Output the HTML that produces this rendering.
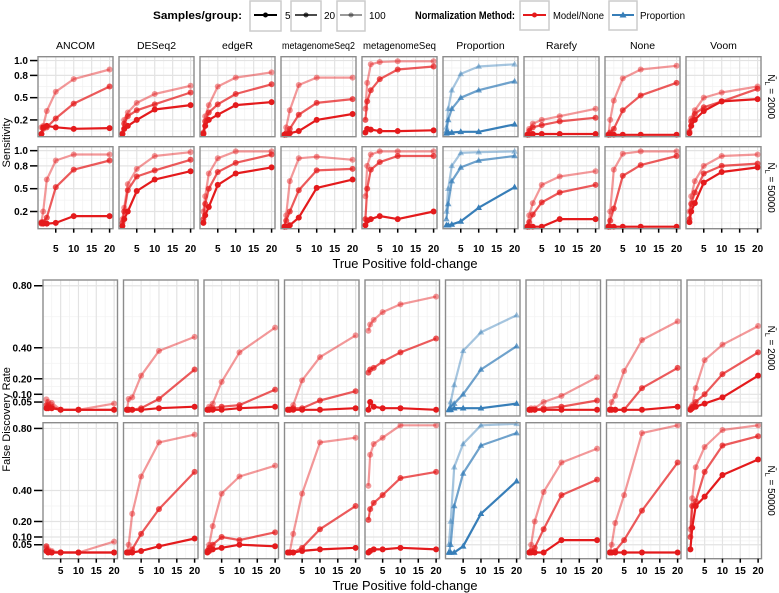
<!DOCTYPE html>
<html><head><meta charset="utf-8"><style>
html,body{margin:0;padding:0;background:#fff;}
svg{display:block;font-family:"Liberation Sans",Arial,sans-serif;}
</style></head><body>
<svg id="chart" width="779" height="593" viewBox="0 0 779 593" xmlns="http://www.w3.org/2000/svg">
<g id="legend">
  <text x="153" y="19" font-size="11" font-weight="bold" textLength="89" lengthAdjust="spacingAndGlyphs">Samples/group:</text>
  <g>
    <rect x="250" y="1" width="31" height="30" fill="#fff" stroke="#ccc" stroke-width="1.5"/>
    <line x1="254" y1="15" x2="277" y2="15" stroke="#000" stroke-width="2"/><circle cx="265.5" cy="15" r="2.5" fill="#000"/>
    <text x="285" y="19" font-size="10">5</text></g>
  <g>
    <rect x="291" y="1" width="30" height="30" fill="#fff" stroke="#ccc" stroke-width="1.5"/>
    <line x1="295" y1="15" x2="317" y2="15" stroke="#000" stroke-opacity="0.7" stroke-width="2"/><circle cx="306" cy="15" r="2.5" fill="#000" fill-opacity="0.7"/>
    <text x="324" y="19" font-size="10">20</text></g>
  <g>
    <rect x="337" y="1" width="28" height="30" fill="#fff" stroke="#ccc" stroke-width="1.5"/>
    <line x1="340" y1="15" x2="362" y2="15" stroke="#000" stroke-opacity="0.4" stroke-width="2"/><circle cx="351" cy="15" r="2.5" fill="#000" fill-opacity="0.4"/>
    <text x="369" y="19" font-size="10">100</text></g>
  <text x="415" y="19" font-size="11" font-weight="bold" textLength="100" lengthAdjust="spacingAndGlyphs">Normalization Method:</text>
  <g>
    <rect x="520" y="1" width="29" height="29" fill="#fff" stroke="#ccc" stroke-width="1.5"/>
    <line x1="523" y1="15" x2="546" y2="15" stroke="#e41a1c" stroke-width="2"/><circle cx="534.5" cy="15" r="2.5" fill="#e41a1c"/>
    <text x="553" y="19" font-size="10" textLength="51" lengthAdjust="spacingAndGlyphs">Model/None</text></g>
  <g>
    <rect x="609" y="1" width="28" height="29" fill="#fff" stroke="#ccc" stroke-width="1.5"/>
    <line x1="612" y1="15" x2="634" y2="15" stroke="#377eb8" stroke-width="2"/><path d="M623,11.5 L626.5,17.5 L619.5,17.5Z" fill="#377eb8"/>
    <text x="640" y="19" font-size="10" textLength="45" lengthAdjust="spacingAndGlyphs">Proportion</text></g>
</g>
<g id="panels"></g>
</svg>
<script>
const methods = ["ANCOM","DESeq2","edgeR","metagenomeSeq2","metagenomeSeq","Proportion","Rarefy","None","Voom"];
const foldChanges = [1, 1.5, 2.5, 5, 10, 20];
const sampleSizes = ["5","20","100"];
const sensTicks = [0.2, 0.5, 0.8, 1.0];
const sensTickLabels = ["0.2","0.5","0.8","1.0"];
const fdrTicks = [0.05, 0.1, 0.2, 0.4, 0.8];
const fdrTickLabels = ["0.05","0.10","0.20","0.40","0.80"];
const xTicks = [5, 10, 15, 20];
const rowLabels = ["2000","50000"];
const sens2000 = [
 [[0.01,0.1,0.12,0.1,0.08,0.09],[0.01,0.08,0.1,0.22,0.42,0.65],[0.1,0.12,0.32,0.58,0.75,0.88]],
 [[0.01,0.08,0.12,0.2,0.34,0.4],[0.01,0.15,0.25,0.33,0.41,0.57],[0.02,0.2,0.3,0.43,0.55,0.66]],
 [[0.01,0.12,0.2,0.27,0.4,0.44],[0.02,0.18,0.3,0.41,0.55,0.68],[0.03,0.25,0.4,0.65,0.77,0.84]],
 [[0,0,0.02,0.05,0.2,0.28],[0,0.02,0.08,0.27,0.43,0.48],[0,0.1,0.33,0.67,0.77,0.77]],
 [[0.03,0.08,0.07,0.05,0.05,0.06],[0.2,0.45,0.6,0.75,0.88,0.92],[0.35,0.7,0.95,0.98,0.99,0.99]],
 [[0.02,0.03,0.03,0.04,0.04,0.14],[0.05,0.2,0.35,0.5,0.6,0.72],[0.1,0.35,0.6,0.82,0.92,0.95]],
 [[0,0,0.01,0.01,0.01,0.01],[0,0.05,0.1,0.13,0.18,0.23],[0,0.08,0.15,0.2,0.25,0.35]],
 [[0,0,0,0,0,0],[0,0.03,0.08,0.33,0.53,0.7],[0,0.2,0.46,0.76,0.88,0.93]],
 [[0.02,0.12,0.2,0.32,0.45,0.48],[0.03,0.18,0.28,0.37,0.45,0.62],[0.05,0.22,0.33,0.5,0.57,0.65]]
];
const sens50000 = [
 [[0.05,0.04,0.04,0.05,0.14,0.14],[0.04,0.06,0.12,0.52,0.75,0.87],[0.06,0.2,0.62,0.87,0.95,0.95]],
 [[0.01,0.1,0.2,0.47,0.62,0.73],[0.05,0.2,0.48,0.66,0.74,0.88],[0.1,0.25,0.56,0.76,0.93,0.98]],
 [[0.05,0.15,0.26,0.55,0.7,0.78],[0.1,0.3,0.5,0.72,0.84,0.95],[0.2,0.4,0.7,0.9,0.99,0.99]],
 [[0,0,0.02,0.12,0.51,0.62],[0,0.08,0.2,0.48,0.74,0.76],[0,0.15,0.6,0.9,0.92,0.88]],
 [[0.02,0.08,0.1,0.14,0.1,0.2],[0.1,0.5,0.75,0.85,0.93,0.93],[0.4,0.8,0.95,0.99,0.99,0.99]],
 [[0.02,0.02,0.03,0.07,0.25,0.52],[0.1,0.3,0.6,0.78,0.87,0.93],[0.2,0.5,0.8,0.97,0.98,0.99]],
 [[0,0,0,0,0.1,0.1],[0,0.06,0.16,0.32,0.45,0.55],[0,0.15,0.31,0.55,0.66,0.73]],
 [[0,0,0,0,0,0],[0,0.08,0.24,0.67,0.81,0.93],[0,0.2,0.75,0.96,0.99,0.99]],
 [[0.06,0.2,0.31,0.58,0.72,0.78],[0.1,0.3,0.45,0.7,0.8,0.83],[0.2,0.4,0.6,0.8,0.93,0.95]]
];
const fdr2000 = [
 [[0.01,0.01,0.01,0,0,0],[0.03,0.03,0.02,0,0,0],[0.067,0.05,0.045,0,0,0.04]],
 [[0,0,0,0,0.01,0.02],[0,0,0,0.01,0.07,0.26],[0,0.07,0.08,0.22,0.38,0.47]],
 [[0,0,0,0,0.01,0.02],[0,0,0.01,0.02,0.03,0.13],[0,0.02,0.04,0.18,0.37,0.53]],
 [[0,0,0,0,0,0.01],[0,0,0.01,0.01,0.06,0.12],[0,0,0.03,0.19,0.34,0.48]],
 [[0,0.05,0.02,0.01,0.01,0],[0.24,0.26,0.27,0.31,0.37,0.46],[0.51,0.55,0.58,0.63,0.68,0.73]],
 [[0,0,0.01,0.01,0.01,0.04],[0,0.02,0.04,0.1,0.26,0.41],[0,0.05,0.16,0.38,0.5,0.61]],
 [[0,0,0,0,0,0],[0,0,0,0.01,0.02,0.06],[0,0.01,0.01,0.05,0.09,0.21]],
 [[0,0,0,0,0,0.02],[0,0,0,0,0.14,0.27],[0,0.05,0.09,0.25,0.45,0.57]],
 [[0,0.01,0.02,0.04,0.08,0.22],[0,0.02,0.05,0.1,0.23,0.37],[0.01,0.03,0.14,0.32,0.42,0.54]]
];
const fdr50000 = [
 [[0.01,0,0,0,0,0],[0.04,0.01,0,0,0,0],[0.03,0.02,0.01,0,0,0.07]],
 [[0,0,0,0.01,0.04,0.09],[0,0,0.02,0.12,0.28,0.52],[0,0.05,0.25,0.49,0.71,0.76]],
 [[0,0.01,0.02,0.03,0.05,0.04],[0.01,0.03,0.05,0.1,0.08,0.13],[0.01,0.05,0.17,0.38,0.49,0.56]],
 [[0,0,0,0.01,0.02,0.03],[0,0,0,0.03,0.15,0.3],[0,0,0.12,0.38,0.71,0.74]],
 [[0,0.01,0.02,0.02,0.03,0.02],[0.21,0.28,0.32,0.37,0.48,0.52],[0.43,0.63,0.7,0.74,0.82,0.82]],
 [[0,0,0,0.04,0.25,0.46],[0,0.05,0.3,0.51,0.69,0.77],[0.05,0.2,0.55,0.7,0.82,0.83]],
 [[0,0,0,0,0.08,0.08],[0,0.01,0.03,0.15,0.37,0.47],[0,0.05,0.2,0.39,0.58,0.67]],
 [[0,0,0,0,0,0],[0,0,0.01,0.08,0.27,0.58],[0,0.05,0.19,0.37,0.77,0.82]],
 [[0.02,0.16,0.3,0.36,0.5,0.6],[0.1,0.3,0.33,0.52,0.69,0.75],[0.15,0.35,0.55,0.68,0.79,0.82]]
];

const NS = "http://www.w3.org/2000/svg";
const root = document.getElementById("panels");
function mk(tag, attrs, parent){ const e=document.createElementNS(NS,tag); for(const k in attrs) e.setAttribute(k,attrs[k]); (parent||root).appendChild(e); return e; }
const alphas = [1.0, 0.72, 0.45];
const RED="#e41a1c", BLUE="#377eb8";

const sections = [
 {name:"sensitivity", x0:38, pitch:81, w:75, rows:[[56.7,136.7],[146.7,228.7]], dom:[-0.026,1.052], ticks:sensTicks, labels:sensTickLabels, data:[sens2000,sens50000], minor:[0.05,0.35,0.65,0.9], labRight:29, xlabY:252, titleY:268},
 {name:"fdr", x0:43, pitch:80.5, w:74.5, rows:[[280,416],[422.7,558.7]], dom:[-0.04,0.837], ticks:fdrTicks, labels:fdrTickLabels, data:[fdr2000,fdr50000], minor:[0.075,0.15,0.3,0.6], labRight:33, xlabY:574, titleY:590}
];
const xDom=[0.05,20.95];

sections.forEach((S,si)=>{
  S.rows.forEach((rr,ri)=>{
    const top=rr[0], bot=rr[1], h=bot-top;
    const ys = v => bot - (v - S.dom[0])/(S.dom[1]-S.dom[0])*h;
    S.ticks.forEach((t,ti)=>{
      const tl=mk("text",{x:S.labRight-1,y:ys(t)+3.5,"font-size":"10","font-weight":"bold","text-anchor":"end"});
      
      
      tl.textContent=S.labels[ti];
      mk("line",{x1:S.labRight+1,x2:S.x0,y1:ys(t),y2:ys(t),stroke:"#000","stroke-width":"1.5"});
    });
    methods.forEach((m,mi)=>{
      const L=S.x0+mi*S.pitch, R=L+S.w;
      const xs = v => L + (v-xDom[0])/(xDom[1]-xDom[0])*S.w;
      const g=mk("g",{});
      
      
      mk("rect",{x:L,y:top,width:S.w,height:h,fill:"#fff"},g);
      S.minor.forEach(t=>mk("line",{x1:L,x2:R,y1:ys(t),y2:ys(t),stroke:"#f2f2f2","stroke-width":"0.8"},g));
      [2.5,7.5,12.5,17.5].forEach(t=>mk("line",{x1:xs(t),x2:xs(t),y1:top,y2:bot,stroke:"#f2f2f2","stroke-width":"0.8"},g));
      S.ticks.forEach(t=>mk("line",{x1:L,x2:R,y1:ys(t),y2:ys(t),stroke:"#e3e3e3","stroke-width":"1.2"},g));
      xTicks.forEach(t=>mk("line",{x1:xs(t),x2:xs(t),y1:top,y2:bot,stroke:"#e3e3e3","stroke-width":"1.2"},g));
      const col = m==="Proportion"?BLUE:RED;
      const series=S.data[ri][mi];
      [2,1,0].forEach(k=>{
        const vals=series[k];
        const pts=vals.map((v,i)=>xs(foldChanges[i]).toFixed(1)+","+ys(v).toFixed(1)).join(" ");
        const pl=mk("polyline",{points:pts,fill:"none",stroke:col,"stroke-opacity":alphas[k],"stroke-width":"2.2","stroke-linejoin":"round"},g);
        
        
        vals.forEach((v,i)=>{
          const cx=xs(foldChanges[i]), cy=ys(v);
          let p;
          if(col===BLUE){ p=mk("path",{d:`M${cx},${cy-3.5}L${cx+3.3},${cy+2.3}L${cx-3.3},${cy+2.3}Z`,fill:col,"fill-opacity":alphas[k]},g); }
          else { p=mk("circle",{cx:cx,cy:cy,r:3,fill:col,"fill-opacity":alphas[k]},g); }
          
          
        });
      });
      mk("rect",{x:L,y:top,width:S.w,height:h,fill:"none",stroke:"#8c8c8c","stroke-width":"1.4"},g);
      if(si===0 && ri===0){
        const st=mk("text",{x:L+S.w/2,y:49,"font-size":"10.5","text-anchor":"middle"});
        if(m.length>10){ st.setAttribute("textLength","73"); st.setAttribute("lengthAdjust","spacingAndGlyphs"); }
        
        
        st.textContent=m;
      }
      if(ri===1){
        xTicks.forEach(t=>{
          mk("line",{x1:xs(t),x2:xs(t),y1:bot,y2:bot+4,stroke:"#000","stroke-width":"1.5"});
          const xl=mk("text",{x:xs(t),y:S.xlabY,"font-size":"10","font-weight":"bold","text-anchor":"middle"});
          
          
          xl.textContent=t;
        });
      }
    });
    const cy=(top+bot)/2;
    const rs=mk("text",{x:0,y:0,"font-size":"10","text-anchor":"middle",transform:`translate(768,${cy}) rotate(90)`});
    
    
    rs.innerHTML='N̄<tspan font-size="7" dy="3">L</tspan><tspan dy="-3"> = '+rowLabels[ri]+'</tspan>';
  });
  const xt=mk("text",{x:405,y:S.titleY,"font-size":"13","text-anchor":"middle",textLength:"145",lengthAdjust:"spacingAndGlyphs"});
  
  
  xt.textContent="True Positive fold-change";
  const midY=(S.rows[0][0]+S.rows[1][1])/2;
  const yt=mk("text",{x:0,y:0,"font-size":"11","text-anchor":"middle",transform:`translate(10,${midY}) rotate(-90)`});
  
  
  yt.textContent= si===0?"Sensitivity":"False Discovery Rate";
});
</script>
</body></html>
